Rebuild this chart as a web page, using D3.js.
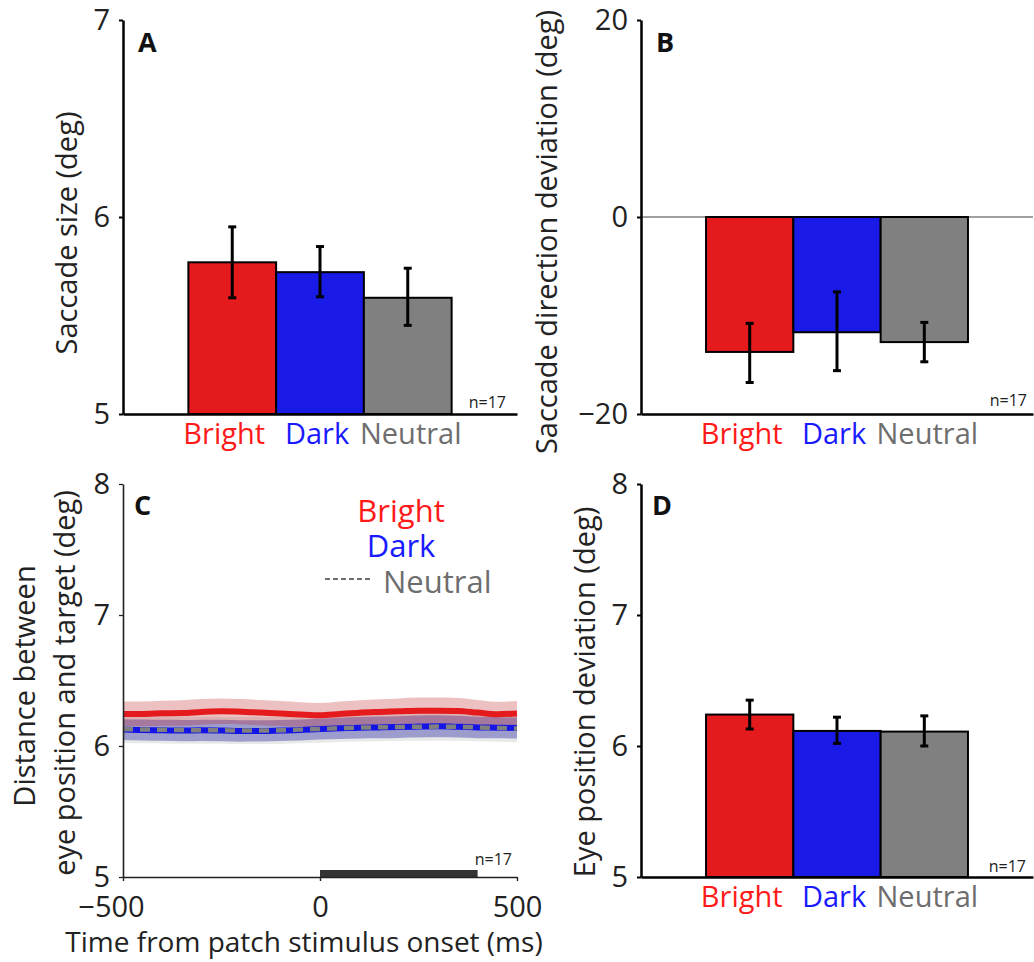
<!DOCTYPE html>
<html>
<head>
<meta charset="utf-8">
<script src="https://cdn.jsdelivr.net/npm/d3@7"></script>
<style>
  html, body { margin: 0; padding: 0; background: #fff; }
  svg { display: block; font-family: "Open Sans", "DejaVu Sans", sans-serif; }
</style>
</head>
<body>
<svg id="chart" width="1034" height="962"></svg>
<script>
// ---------------- DATA ----------------
const categories = ["Bright", "Dark", "Neutral"];
const catColors = ["#e41a1c", "#1a1ae6", "#808080"];
const catTextColors = ["#ff1a1a", "#1a1aff", "#6e6e6e"];

// Panel A: saccade size (deg)
const sizeMean = [5.77, 5.72, 5.59];
const sizeLo   = [5.59, 5.595, 5.45];
const sizeHi   = [5.95, 5.85, 5.74];
const sizeTicks = [5, 6, 7];

// Panel B: saccade direction deviation (deg)
const dirMean = [-13.7, -11.7, -12.7];
const dirLo   = [-16.8, -15.6, -14.7];
const dirHi   = [-10.8, -7.6, -10.7];
const dirTicks = [-20, 0, 20];

// Panel D: eye position deviation (deg)
const posMean = [6.24, 6.115, 6.11];
const posLo   = [6.13, 6.02, 6.0];
const posHi   = [6.35, 6.22, 6.23];
const posTicks = [5, 6, 7, 8];

// Panel C: time course
const times = [-500,-450,-400,-350,-300,-250,-200,-150,-100,-50,0,50,100,150,200,250,300,350,400,450,500];
const brightMean = [6.245,6.245,6.25,6.252,6.26,6.265,6.262,6.255,6.248,6.24,6.234,6.244,6.254,6.26,6.265,6.27,6.27,6.268,6.255,6.243,6.248];
const brightSem  = [0.095,0.095,0.096,0.097,0.098,0.098,0.097,0.096,0.095,0.094,0.094,0.095,0.096,0.097,0.098,0.1,0.1,0.099,0.097,0.095,0.095];
const darkMean   = [6.125,6.122,6.12,6.118,6.12,6.118,6.115,6.115,6.118,6.122,6.13,6.135,6.14,6.142,6.145,6.148,6.15,6.147,6.142,6.14,6.137];
const darkSem    = [0.08,0.08,0.08,0.081,0.081,0.082,0.082,0.081,0.08,0.08,0.08,0.081,0.082,0.083,0.083,0.084,0.084,0.083,0.082,0.081,0.08];
const neutralMean= [6.128,6.126,6.124,6.122,6.12,6.12,6.118,6.118,6.12,6.125,6.13,6.136,6.14,6.143,6.145,6.147,6.148,6.146,6.142,6.138,6.133];
const neutralSem = [0.105,0.105,0.104,0.104,0.103,0.103,0.103,0.103,0.104,0.104,0.105,0.105,0.106,0.106,0.106,0.107,0.107,0.106,0.105,0.105,0.105];
const timeTicks = [-500, 0, 500];
const cTicks = [5, 6, 7, 8];
const stimWindow = [0, 400];

// ---------------- DRAW ----------------
const svg = d3.select("#chart");
svg.append("rect").attr("width", 1034).attr("height", 962).attr("fill", "#fff");

const TICK_FONT = 29, LABEL_FONT = 29, CAT_FONT = 29;
const catLabelShift = [-8, -3, 3];

function yAxis(g, y, ticks, color, width) {
  const ax = d3.axisLeft(y).tickValues(ticks).tickSize(4).tickSizeOuter(0).tickPadding(9)
    .tickFormat(d => d < 0 ? "\u2212" + Math.abs(d) : d);
  g.call(ax);
  g.select(".domain").attr("stroke", color).attr("stroke-width", width);
  g.selectAll(".tick line").attr("stroke", color).attr("stroke-width", width * 0.8);
  g.selectAll(".tick text").attr("font-size", TICK_FONT).attr("fill", "#222")
    .attr("font-family", "Open Sans");
}

function yLabel(x, y, text) {
  svg.append("text").attr("transform", `translate(${x},${y}) rotate(-90)`)
    .attr("text-anchor", "middle").attr("dominant-baseline", "central")
    .attr("font-size", LABEL_FONT).attr("fill", "#222").text(text);
}

function panelLetter(x, y, t) {
  svg.append("text").attr("x", x).attr("y", y).attr("font-size", 27)
    .attr("font-weight", "bold").attr("fill", "#111").text(t);
}

function nLabel(x, y) {
  svg.append("text").attr("x", x).attr("y", y).attr("text-anchor", "end")
    .attr("font-size", 16).attr("fill", "#222").text("n=17");
}

function barPanel(opt) {
  const { x0, x1, yTop, yBot, domain, ticks, mean, lo, hi, base } = opt;
  const x = d3.scaleBand().domain(categories).range([x0, x1]).paddingInner(0).paddingOuter(0.745);
  const y = d3.scaleLinear().domain(domain).range([yBot, yTop]);
  const g = svg.append("g");

  if (opt.zeroLine) {
    g.append("line").attr("x1", x0).attr("x2", x1).attr("y1", y(0)).attr("y2", y(0))
      .attr("stroke", "#808080").attr("stroke-width", 1.6);
  }
  g.selectAll("rect.bar").data(categories).join("rect").attr("class", "bar")
    .attr("x", d => x(d)).attr("width", x.bandwidth())
    .attr("y", (d, i) => Math.min(y(mean[i]), y(base)))
    .attr("height", (d, i) => Math.abs(y(mean[i]) - y(base)))
    .attr("fill", (d, i) => catColors[i]).attr("stroke", "#000").attr("stroke-width", 2);
  const cap = 4;
  categories.forEach((c, i) => {
    const cx = x(c) + x.bandwidth() / 2;
    g.append("line").attr("x1", cx).attr("x2", cx).attr("y1", y(lo[i])).attr("y2", y(hi[i]))
      .attr("stroke", "#000").attr("stroke-width", 3);
    [lo[i], hi[i]].forEach(v => {
      g.append("line").attr("x1", cx - cap).attr("x2", cx + cap).attr("y1", y(v)).attr("y2", y(v))
        .attr("stroke", "#000").attr("stroke-width", 3);
    });
  });
  const gx = svg.append("g").attr("transform", `translate(0,${yBot})`);
  gx.call(d3.axisBottom(x).tickSize(0).tickSizeOuter(0).tickPadding(9));
  gx.select(".domain").attr("stroke", "#000").attr("stroke-width", 2.5);
  gx.selectAll(".tick text").attr("font-size", CAT_FONT).attr("font-family", "Open Sans")
    .attr("fill", (d, i) => catTextColors[i]).attr("dx", (d, i) => catLabelShift[i]);
  const gy = svg.append("g").attr("transform", `translate(${x0},0)`);
  yAxis(gy, y, ticks, "#000", 2.5);
  return { x, y };
}

// Panel A
barPanel({ x0: 123, x1: 517, yTop: 20, yBot: 414, domain: [5, 7], ticks: sizeTicks,
  mean: sizeMean, lo: sizeLo, hi: sizeHi, base: 5 });
yLabel(65, 233, "Saccade size (deg)");
panelLetter(138, 52, "A");
nLabel(506, 408);

// Panel B
barPanel({ x0: 641, x1: 1033, yTop: 20, yBot: 414, domain: [-20, 20], ticks: dirTicks,
  mean: dirMean, lo: dirLo, hi: dirHi, base: 0, zeroLine: true });
yLabel(545, 232, "Saccade direction deviation (deg)");
panelLetter(656, 52, "B");
nLabel(1027, 406);

// Panel D
barPanel({ x0: 641, x1: 1033, yTop: 484, yBot: 877, domain: [5, 8], ticks: posTicks,
  mean: posMean, lo: posLo, hi: posHi, base: 5 });
yLabel(583, 692, "Eye position deviation (deg)");
panelLetter(652, 515, "D");
nLabel(1026, 872);

// Panel C
(function () {
  const x = d3.scaleLinear().domain([-500, 500]).range([123, 517]);
  const y = d3.scaleLinear().domain([5, 8]).range([877, 484]);
  const g = svg.append("g");
  const series = [
    { mean: neutralMean, sem: neutralSem, band: "#9a9a9a", bandOp: 0.22 },
    { mean: darkMean, sem: darkSem, band: "#2020a0", bandOp: 0.38 },
    { mean: brightMean, sem: brightSem, band: "#c02020", bandOp: 0.28 }
  ];
  const area = (m, s) => d3.area().curve(d3.curveMonotoneX)
    .x((d, i) => x(times[i])).y0((d, i) => y(m[i] - s[i])).y1((d, i) => y(m[i] + s[i]));
  series.forEach(sr => {
    g.append("path").attr("d", area(sr.mean, sr.sem)(times))
      .attr("fill", sr.band).attr("fill-opacity", sr.bandOp);
  });
  const line = m => d3.line().curve(d3.curveMonotoneX).x((d, i) => x(times[i])).y((d, i) => y(m[i]));
  g.append("path").attr("d", line(brightMean)(times)).attr("fill", "none")
    .attr("stroke", "#e41a1c").attr("stroke-width", 6);
  g.append("path").attr("d", line(darkMean)(times)).attr("fill", "none")
    .attr("stroke", "#1414e6").attr("stroke-width", 6);
  g.append("path").attr("d", line(neutralMean)(times)).attr("fill", "none")
    .attr("stroke", "#808080").attr("stroke-width", 4.5).attr("stroke-dasharray", "10,7");

  g.append("rect").attr("x", x(stimWindow[0])).attr("width", x(stimWindow[1]) - x(stimWindow[0]))
    .attr("y", y(5) - 7).attr("height", 7).attr("fill", "#333");

  const gx = svg.append("g").attr("transform", `translate(0,877)`);
  gx.call(d3.axisBottom(x).tickValues(timeTicks).tickSize(4).tickSizeOuter(0).tickPadding(15)
    .tickFormat(d => d < 0 ? "\u2212" + Math.abs(d) : d));
  gx.select(".domain").attr("stroke", "#222").attr("stroke-width", 1.6);
  gx.selectAll(".tick line").attr("stroke", "#222").attr("stroke-width", 1.4);
  gx.selectAll(".tick text").attr("font-size", TICK_FONT).attr("fill", "#222")
    .attr("font-family", "Open Sans").attr("dx", d => d < 0 ? -12 : 0);
  const gy = svg.append("g").attr("transform", `translate(123,0)`);
  yAxis(gy, y, cTicks, "#222", 1.6);

  svg.append("text").attr("x", 304).attr("y", 952).attr("text-anchor", "middle")
    .attr("font-size", 28).attr("fill", "#222").text("Time from patch stimulus onset (ms)");
  yLabel(23, 686, "Distance between");
  yLabel(63, 683, "eye position and target (deg)");
  panelLetter(134, 515, "C");
  nLabel(512, 865);

  const LF = 31;
  svg.append("text").attr("x", 401).attr("y", 522).attr("text-anchor", "middle")
    .attr("font-size", LF).attr("fill", "#ff1a1a").text("Bright");
  svg.append("text").attr("x", 401).attr("y", 557).attr("text-anchor", "middle")
    .attr("font-size", LF).attr("fill", "#1a1aff").text("Dark");
  svg.append("text").attr("x", 383).attr("y", 593).attr("text-anchor", "start")
    .attr("font-size", LF).attr("fill", "#6e6e6e").text("Neutral");
  svg.append("line").attr("x1", 325).attr("x2", 371).attr("y1", 579).attr("y2", 579)
    .attr("stroke", "#6e6e6e").attr("stroke-width", 2).attr("stroke-dasharray", "5,3");
})();
</script>
</body>
</html>
